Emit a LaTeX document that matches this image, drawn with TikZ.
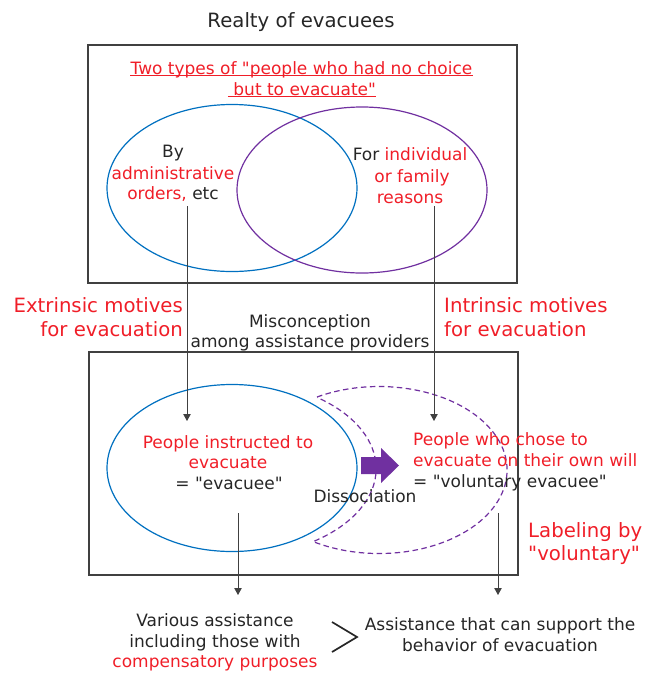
\documentclass[tikz,border=0pt]{standalone}
\usepackage{fontspec}
\setmainfont{DejaVu Sans}
\newfontfamily\dejavu{DejaVu Sans}
\usetikzlibrary{arrows.meta,shapes.geometric}
\definecolor{txt}{RGB}{38,38,38}
\definecolor{myred}{RGB}{240,30,40}
\definecolor{myblue}{RGB}{0,112,192}
\definecolor{mypurple}{RGB}{112,48,160}
\definecolor{framec}{RGB}{64,64,64}
\tikzset{
  body/.style={inner sep=0pt, font=\dejavu\fontsize{17}{21}\selectfont, text=txt},
  bodyred/.style={body, text=myred},
  big/.style={inner sep=0pt, font=\dejavu\fontsize{19.7}{24}\selectfont, text=myred},
  framebox/.style={draw=framec, line width=1.3pt, inner sep=0pt},
  vennblue/.style={ellipse, draw=myblue, line width=1.2pt, inner sep=0pt, minimum width=250pt, minimum height=167pt},
  vennpurple/.style={ellipse, draw=mypurple, line width=1.2pt, inner sep=0pt, minimum width=250pt, minimum height=166pt},
  conn/.style={draw=framec, line width=0.8pt, -{Triangle[length=7pt,width=7.5pt]}},
}
\begin{document}
\begin{tikzpicture}[x=1pt,y=-1pt]
\useasboundingbox (0,0) rectangle (656,675);
% title
\node[body, font=\dejavu\fontsize{19.7}{24}\selectfont, anchor=base] (title) at (301,27) {Realty of evacuees};
% top box
\node[framebox, minimum width=429pt, minimum height=238pt] (topbox) at (302.5,164) {};
\node[bodyred, anchor=base] (h1) at (301.5,74) {Two types of "people who had no choice};
\node[bodyred, anchor=base] (h2) at (302,95) {~but to evacuate"};
\draw[myred, line width=0.8pt] ([yshift=-1.5pt]h1.base west) -- ([yshift=-1.5pt]h1.base east);
\draw[myred, line width=0.8pt] ([yshift=-1.5pt]h2.base west) -- ([yshift=-1.5pt]h2.base east);
\node[vennblue] (e1) at (232,188) {};
\node[vennpurple] (e2) at (362,190) {};
\node[body, anchor=base] (by) at (173,157) {By};
\node[bodyred, anchor=base] (adm) at (173,179) {administrative};
\node[body, anchor=base] (ord) at (173,199) {\textcolor{myred}{orders,} etc};
\node[body, anchor=base] (for) at (410,160) {For \textcolor{myred}{individual}};
\node[bodyred, anchor=base] (fam) at (412,182) {or family};
\node[bodyred, anchor=base] (rea) at (410,203) {reasons};
% middle texts
\node[big, anchor=base east] (ex1) at (183,312) {Extrinsic motives};
\node[big, anchor=base east] (ex2) at (183,336) {for evacuation};
\node[big, anchor=base west] (in1) at (444,312) {Intrinsic motives};
\node[big, anchor=base west] (in2) at (444,336) {for evacuation};
\node[body, anchor=base] (mis1) at (310,327) {Misconception};
\node[body, anchor=base] (mis2) at (310,347) {among assistance providers};
% lower box
\node[framebox, minimum width=429pt, minimum height=223pt] (lowbox) at (303.5,463.5) {};
\node[vennblue] (e3) at (232,468) {};
\draw[mypurple, line width=1.2pt, dash pattern=on 5.5pt off 3.5pt]
  (317,397) arc[start angle=-119, end angle=121, x radius=128, y radius=83.5]
            arc[start angle=56, end angle=-54, x radius=143, y radius=88];
\fill[mypurple] (361,457) -- (381,457) -- (381,448) -- (399,465.5) -- (381,483) -- (381,474) -- (361,474) -- cycle;
\node[body, anchor=base] (dis) at (365,502) {Dissociation};
\node[bodyred, anchor=base] (pi1) at (228,448) {People instructed to};
\node[bodyred, anchor=base] (pi2) at (228,468) {evacuate};
\node[body, anchor=base] (pi3) at (229,489) {= "evacuee"};
\node[bodyred, anchor=base west] (pv1) at (413,445) {People who chose to};
\node[bodyred, anchor=base west] (pv2) at (413,466) {evacuate on their own will};
\node[body, anchor=base west] (pv3) at (413,487) {= "voluntary evacuee"};
\node[big, anchor=base west] (lab1) at (528,537) {Labeling by};
\node[big, anchor=base west] (lab2) at (528,560) {"voluntary"};
% connectors
\coordinate (c1s) at (187,206);
\coordinate (c1e) at (187,421);
\coordinate (c2s) at (434,206);
\coordinate (c2e) at (434,421);
\coordinate (c3s) at (238,513);
\coordinate (c3e) at (238,595);
\coordinate (c4s) at (498,513);
\coordinate (c4e) at (498,595);
\draw[conn] (c1s) -- (c1e);
\draw[conn] (c2s) -- (c2e);
\draw[conn] (c3s) -- (c3e);
\draw[conn] (c4s) -- (c4e);
% bottom texts
\node[body, anchor=base] (va1) at (215,626) {Various assistance};
\node[body, anchor=base] (va2) at (215,647) {including those with};
\node[bodyred, anchor=base] (va3) at (215,667) {compensatory purposes};
\node[body, anchor=base] (as1) at (500,630) {Assistance that can support the};
\node[body, anchor=base] (as2) at (500,651) {behavior of evacuation};
\draw[txt, line width=1.7pt, line join=miter] (332,622) -- (357,637) -- (332,652);
\end{tikzpicture}
\end{document}
